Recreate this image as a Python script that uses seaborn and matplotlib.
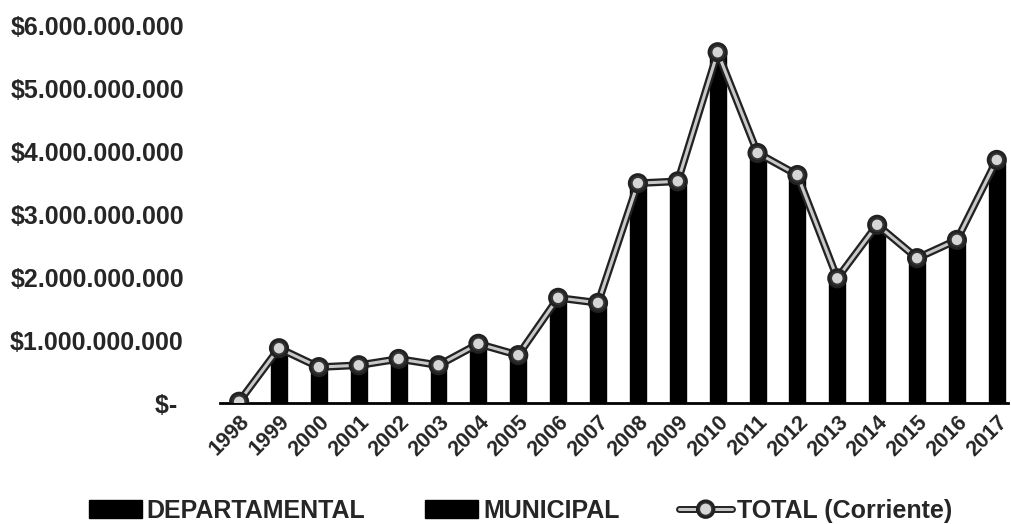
#Grafico de inversion por anio: barras (departamental / municipal) y linea del total corriente

#import packages
import pandas as pd
import numpy as np
import matplotlib
matplotlib.use("Agg")
from matplotlib import pyplot as plt
from matplotlib.patches import Patch
from matplotlib.lines import Line2D
import matplotlib.patheffects as pe
import seaborn as sns

#data (values in pesos)
anios = [str(a) for a in range(1998, 2018)]
departamental = [0, 0, 0, 0, 0, 0, 0, 0, 0, 0, 0, 0, 0, 0, 0, 0, 0, 0, 0, 0]
municipal = [0.02e9, 0.87e9, 0.57e9, 0.60e9, 0.70e9, 0.60e9, 0.94e9, 0.76e9, 1.67e9, 1.59e9,
             3.49e9, 3.52e9, 5.57e9, 3.97e9, 3.62e9, 1.98e9, 2.83e9, 2.30e9, 2.59e9, 3.86e9]
total = [0.02e9, 0.87e9, 0.57e9, 0.60e9, 0.70e9, 0.60e9, 0.94e9, 0.76e9, 1.67e9, 1.59e9,
         3.49e9, 3.52e9, 5.57e9, 3.97e9, 3.62e9, 1.98e9, 2.83e9, 2.30e9, 2.59e9, 3.86e9]
series = ["DEPARTAMENTAL", "MUNICIPAL"]
yticks = [0, 1e9, 2e9, 3e9, 4e9, 5e9, 6e9]
ytick_labels = ["$- ", "$1.000.000.000", "$2.000.000.000", "$3.000.000.000",
                "$4.000.000.000", "$5.000.000.000", "$6.000.000.000"]
legend_labels = ["DEPARTAMENTAL", "MUNICIPAL", "TOTAL (Corriente)"]

#long table for the bars
df = pd.DataFrame({"anio": anios * 2,
                   "valor": departamental + municipal,
                   "serie": [series[0]] * len(anios) + [series[1]] * len(anios)})

sns.set_style("white")
plt.rcParams["font.family"] = ["Liberation Sans", "DejaVu Sans"]
plt.rcParams["font.weight"] = "bold"

fig = plt.figure(figsize=(10.11, 5.24), dpi=100)
ax = fig.add_axes([0.2176, 0.2309, 0.7794, 0.7211])

sns.barplot(data=df, x="anio", y="valor", hue="serie", hue_order=series,
            palette=["black", "black"], dodge=False, width=0.4, ax=ax, legend=False,
            edgecolor="black")

sns.pointplot(x=anios, y=total, color="#c8c8c8", markers="o", linestyles="-",
              markersize=9, linewidth=2.2, errorbar=None, ax=ax,
              markeredgecolor="#333333", markerfacecolor="#d6d6d6", markeredgewidth=1.5)
ax.lines[-1].set_path_effects([pe.Stroke(linewidth=5.5, foreground="#222222"), pe.Normal()])
ax.lines[-1].set_zorder(5)

#axes look
ax.set_xlim(-0.48, 19.28)
ax.set_ylim(0, 6e9)
ax.set_yticks(yticks)
ax.set_yticklabels(ytick_labels, fontsize=18, fontweight="bold")
ax.set_xticks(range(len(anios)))
ax.set_xticklabels(anios, rotation=45, ha="right", rotation_mode="anchor",
                   fontsize=15.5, fontweight="bold")
ax.tick_params(axis="y", length=0, pad=26)
ax.tick_params(axis="x", length=0, pad=6)
ax.set(xlabel="", ylabel="")
sns.despine(ax=ax, left=True, top=True, right=True)
ax.spines["bottom"].set_linewidth(2)
ax.spines["bottom"].set_color("black")

#legend at the bottom
handles = [Patch(facecolor="black", edgecolor="black"),
           Patch(facecolor="black", edgecolor="black"),
           Line2D([0], [0], color="#c8c8c8", lw=2.2, marker="o", markersize=9,
                  markerfacecolor="#d6d6d6", markeredgecolor="#333333",
                  path_effects=[pe.Stroke(linewidth=5, foreground="#222222"), pe.Normal()])]
fig.legend(handles, legend_labels, loc="center", bbox_to_anchor=(0.515, 0.025), ncol=3,
           frameon=False, prop={"size": 18, "weight": "bold"}, handlelength=2.1,
           handleheight=0.7, handletextpad=0.2, columnspacing=2.4)

fig.savefig("out.png", dpi=100)
